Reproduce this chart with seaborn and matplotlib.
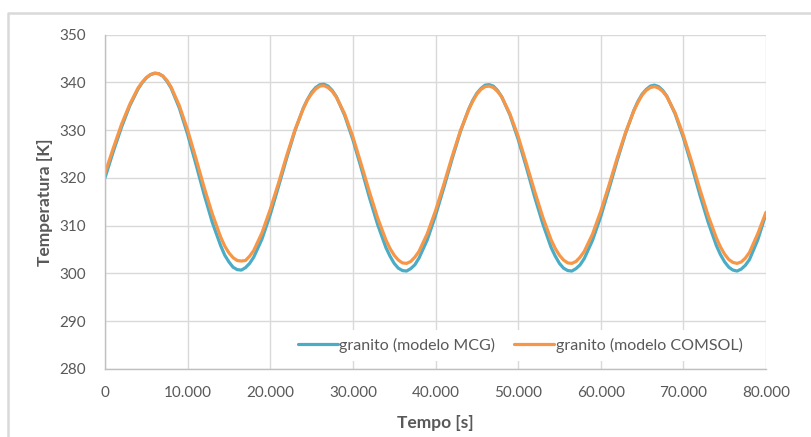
import numpy as np
import pandas as pd
import matplotlib
matplotlib.use("Agg")
import matplotlib.pyplot as plt
from matplotlib.lines import Line2D
import seaborn as sns

# ---------------- data ----------------
tempo = [0, 1000, 2000, 3000, 4000, 4500, 5000, 5500, 6000, 6500, 7000, 7500,
         8000, 9000, 10000, 11000, 12000, 13000, 14000, 14500, 15000, 15500,
         16000, 16500, 17000, 17500, 18000, 19000, 20000, 21000, 22000, 23000,
         24000, 24500, 25000, 25500, 26000, 26500, 27000, 27500, 28000, 29000,
         30000, 31000, 32000, 33000, 34000, 34500, 35000, 35500, 36000, 36500,
         37000, 37500, 38000, 39000, 40000, 41000, 42000, 43000, 44000, 44500,
         45000, 45500, 46000, 46500, 47000, 47500, 48000, 49000, 50000, 51000,
         52000, 53000, 54000, 54500, 55000, 55500, 56000, 56500, 57000, 57500,
         58000, 59000, 60000, 61000, 62000, 63000, 64000, 64500, 65000, 65500,
         66000, 66500, 67000, 67500, 68000, 69000, 70000, 71000, 72000, 73000,
         74000, 74500, 75000, 75500, 76000, 76500, 77000, 77500, 78000, 79000,
         80000]

mcg = [320.0, 325.5, 330.6, 335.1, 338.6, 339.9, 340.9, 341.6, 341.9, 341.8, 341.3, 340.2,
       338.8, 334.6, 329.1, 322.9, 316.5, 310.6, 305.8, 303.8, 302.4, 301.3,
       300.8, 300.7, 301.2, 302.1, 303.4, 307.2, 312.3, 318.2, 324.2, 329.9,
       334.6, 336.4, 337.9, 338.9, 339.5, 339.6, 339.2, 338.3, 337.0, 333.1,
       328.0, 322.1, 315.9, 310.2, 305.4, 303.6, 302.1, 301.1, 300.6, 300.5,
       301.0, 301.8, 303.2, 307.0, 312.1, 317.9, 323.9, 329.6, 334.3, 336.2,
       337.7, 338.7, 339.4, 339.5, 339.2, 338.3, 337.0, 333.2, 328.1, 322.2,
       316.0, 310.3, 305.4, 303.6, 302.1, 301.1, 300.6, 300.5, 301.0, 301.8,
       303.1, 306.9, 311.9, 317.7, 323.7, 329.3, 334.1, 336.0, 337.5, 338.5,
       339.2, 339.4, 339.1, 338.3, 337.1, 333.4, 328.4, 322.6, 316.4, 310.7,
       305.8, 303.9, 302.4, 301.3, 300.7, 300.5, 300.9, 301.7, 302.9, 307.0,
       312.5]

comsol = [321.0, 326.2, 331.2, 335.4, 338.8, 340.0, 341.0, 341.6, 341.9, 341.8, 341.3, 340.4,
          339.0, 335.1, 330.0, 324.1, 318.0, 312.4, 307.6, 305.7, 304.3, 303.3,
          302.7, 302.6, 302.7, 303.6, 304.8, 308.5, 313.4, 318.9, 324.7, 330.1,
          334.5, 336.3, 337.6, 338.6, 339.2, 339.3, 338.9, 338.1, 336.9, 333.4,
          328.6, 322.9, 317.1, 311.6, 307.0, 305.2, 303.8, 302.8, 302.2, 302.1,
          302.5, 303.4, 304.6, 308.3, 313.1, 318.6, 324.4, 329.8, 334.2, 336.0,
          337.5, 338.5, 339.1, 339.2, 338.9, 338.1, 337.0, 333.4, 328.7, 323.0,
          317.2, 311.7, 307.0, 305.2, 303.8, 302.8, 302.2, 302.1, 302.5, 303.4,
          304.6, 308.2, 313.0, 318.5, 324.2, 329.5, 334.0, 335.8, 337.3, 338.3,
          338.9, 339.1, 338.8, 338.1, 337.0, 333.6, 328.9, 323.4, 317.6, 312.1,
          307.4, 305.5, 304.0, 302.9, 302.3, 302.1, 302.4, 303.2, 304.4, 308.3,
          312.8]

series_names = ["granito (modelo MCG)", "granito (modelo COMSOL)"]
series_colors = ["#4BACC6", "#F79646"]

y_ticks = [280, 290, 300, 310, 320, 330, 340, 350]
x_ticks = [0, 10000, 20000, 30000, 40000, 50000, 60000, 70000, 80000]
x_tick_labels = ["0", "10.000", "20.000", "30.000", "40.000", "50.000",
                 "60.000", "70.000", "80.000"]
x_label = "Tempo [s]"
y_label = "Temperatura [K]"

# ---------------- figure ----------------
sns.set_style("white")
plt.rcParams["font.family"] = ["Lato", "DejaVu Sans"]

df = pd.DataFrame({
    "Tempo": tempo * 2,
    "Temperatura": mcg + comsol,
    "Serie": [series_names[0]] * len(tempo) + [series_names[1]] * len(tempo),
})

fig = plt.figure(figsize=(8.11, 4.37), dpi=100)
ax = fig.add_axes([105 / 811, 1 - 369 / 437, 661 / 811, 334.5 / 437])

sns.lineplot(data=df, x="Tempo", y="Temperatura", hue="Serie",
             hue_order=series_names, palette=series_colors,
             linewidth=2.3, ax=ax, legend=False)
for ln in ax.get_lines():
    ln.set_solid_joinstyle("round")
    ln.set_solid_capstyle("round")

ax.set_xlim(0, 80000)
ax.set_ylim(280, 350)
ax.set_xticks(x_ticks)
ax.set_xticklabels(x_tick_labels)
ax.set_yticks(y_ticks)

grid_c = "#d9d9d9"
ax.grid(True, color=grid_c, linewidth=1.0)
ax.set_axisbelow(True)
for s in ["top", "right"]:
    ax.spines[s].set_visible(False)
for s in ["left", "bottom"]:
    ax.spines[s].set_color("#bfbfbf")
    ax.spines[s].set_linewidth(1.0)

txt_c = "#595959"
ax.tick_params(axis="both", length=0, labelsize=11, labelcolor=txt_c)
ax.tick_params(axis="x", pad=12)
ax.tick_params(axis="y", pad=14)

ax.set_xlabel(x_label, fontsize=12.5, fontweight="bold", color=txt_c, labelpad=11)
ax.set_ylabel(y_label, fontsize=12.5, fontweight="bold", color=txt_c, labelpad=4)

handles = [Line2D([0], [0], color=c, linewidth=2.3) for c in series_colors]
leg = ax.legend(handles, series_names, loc="lower right",
                bbox_to_anchor=(0.977, 0.024), ncol=2, frameon=True,
                fontsize=11.5, handlelength=2.5, handletextpad=0.1,
                columnspacing=1.2, borderpad=0.5, borderaxespad=0.0)
leg.get_frame().set_facecolor("white")
leg.get_frame().set_edgecolor("none")
leg.get_frame().set_alpha(1.0)
for t in leg.get_texts():
    t.set_color(txt_c)

# outer chart frame (cropped at right and bottom)
fx = 8 / 811
fy = 1 - 13 / 437
fig.add_artist(Line2D([fx, fx, 1.0], [0.0, fy, fy], transform=fig.transFigure,
                      color="#d9d9d9", linewidth=1.8))

fig.savefig("out.png", dpi=100)
